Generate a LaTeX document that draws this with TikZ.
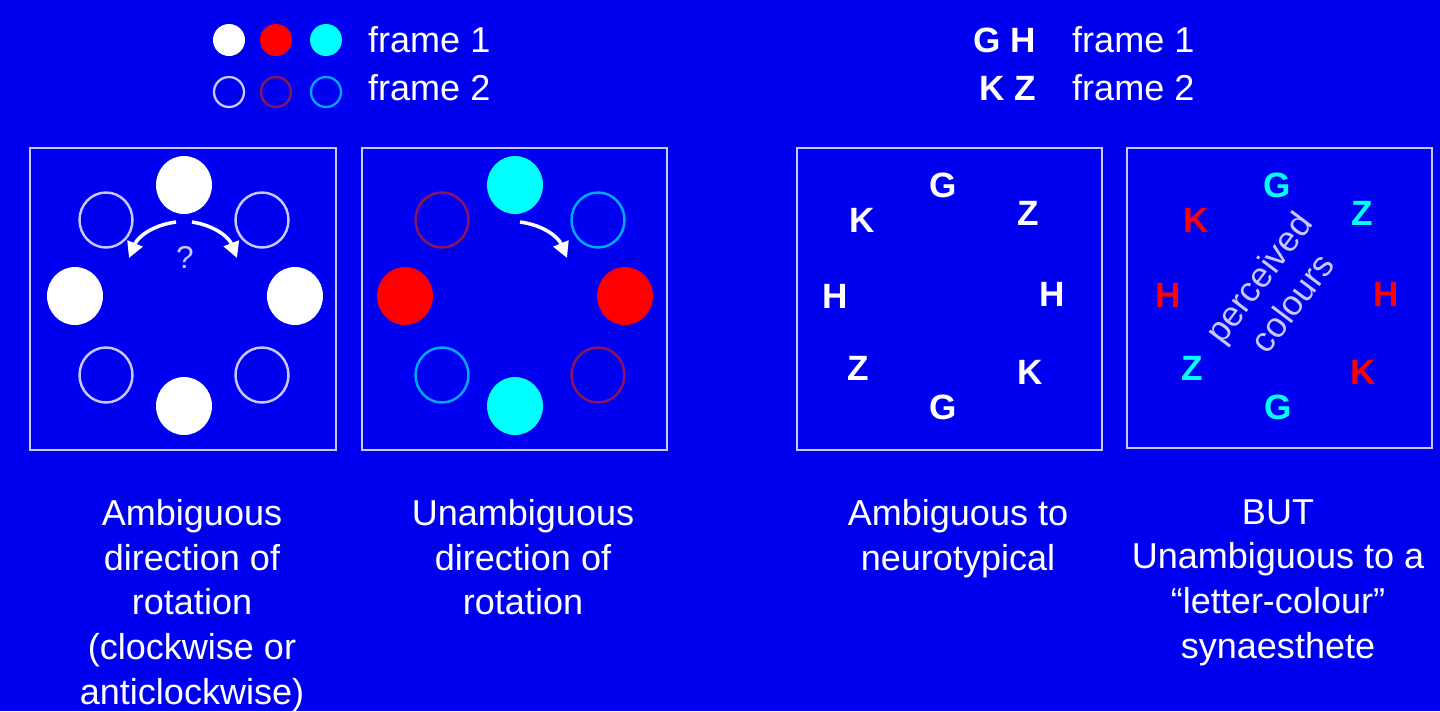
\documentclass[tikz,border=0pt]{standalone}
\usepackage{fontspec}
\setmainfont{Liberation Sans}
\usetikzlibrary{arrows.meta,shapes.geometric}
\definecolor{bg}{RGB}{0,0,240}
\definecolor{lav}{RGB}{200,200,255}
\definecolor{cy}{RGB}{0,255,255}
\definecolor{rd}{RGB}{255,0,0}
\definecolor{dr}{RGB}{140,20,90}
\definecolor{lb}{RGB}{0,170,255}
\begin{document}
\begin{tikzpicture}[x=0.02cm,y=-0.02cm,
  box/.style={draw=lav,line width=1.2pt},
  fc/.style={ellipse,minimum width=1.12cm,minimum height=1.16cm,inner sep=0,fill=#1},
  hc/.style={ellipse,minimum width=1.06cm,minimum height=1.1cm,inner sep=0,draw=#1,line width=1.4pt},
  lfc/.style={circle,minimum size=0.64cm,inner sep=0,fill=#1},
  lhc/.style={circle,minimum size=0.6cm,inner sep=0,draw=#1,line width=1.3pt},
  let/.style={text=#1,font=\bfseries\fontsize{20}{22}\selectfont},
  txt/.style={text=white,font=\fontsize{20.5}{25.5}\selectfont,align=center,anchor=north},
  arr/.style={draw=white,line width=2pt,-{Triangle[width=9pt,length=9pt]}}]
\fill[bg] (0,0) rectangle (1440,711);
\useasboundingbox (0,0) rectangle (1440,711);
% legend left
\node[lfc=white] (l1) at (229,40) {};
\node[lfc=rd] (l2) at (276,40) {};
\node[lfc=cy] (l3) at (326,40) {};
\node[lhc=lav] (l4) at (229,92) {};
\node[lhc=dr] (l5) at (276,92) {};
\node[lhc=lb] (l6) at (326,92) {};
\node[txt,anchor=west] (f1) at (362,40) {frame 1};
\node[txt,anchor=west] (f2) at (362,88) {frame 2};
% legend right
\node[let=white] (gh) at (1005,40) {G H};
\node[let=white] (kz) at (1008,88) {K Z};
\node[txt,anchor=west] (f3) at (1066,40) {frame 1};
\node[txt,anchor=west] (f4) at (1066,88) {frame 2};
% boxes
\draw[box] (30,148) rectangle (336,450);
\draw[box] (362,148) rectangle (667,450);
\draw[box] (797,148) rectangle (1102,450);
\draw[box] (1127,148) rectangle (1432,448);
% box1
\node[fc=white] (a1) at (184,185) {};
\node[fc=white] (a2) at (75,296) {};
\node[fc=white] (a3) at (295,296) {};
\node[fc=white] (a4) at (184,406) {};
\node[hc=lav] (a5) at (106,220) {};
\node[hc=lav] (a6) at (262,220) {};
\node[hc=lav] (a7) at (106,375) {};
\node[hc=lav] (a8) at (262,375) {};
\coordinate (p1) at (176,222); \coordinate (p2) at (129,258);
\coordinate (p3) at (192,222); \coordinate (p4) at (237,258);
\draw[arr] (p1) to[bend right=30] (p2);
\draw[arr] (p3) to[bend left=30] (p4);
\node[text=lav,font=\fontsize{18}{20}\selectfont] (q) at (185,257) {?};
% box2
\node[fc=cy] (b1) at (515,185) {};
\node[fc=rd] (b2) at (405,296) {};
\node[fc=rd] (b3) at (625,296) {};
\node[fc=cy] (b4) at (515,406) {};
\node[hc=dr] (b5) at (442,220) {};
\node[hc=lb] (b6) at (598,220) {};
\node[hc=lb] (b7) at (442,375) {};
\node[hc=dr] (b8) at (598,375) {};
\coordinate (p5) at (520,222); \coordinate (p6) at (567,258);
\draw[arr] (p5) to[bend left=30] (p6);
% box3
\node[let=white] (c1) at (943,185) {G};
\node[let=white] (c2) at (1028,213) {Z};
\node[let=white] (c3) at (862,220) {K};
\node[let=white] (c4) at (835,296) {H};
\node[let=white] (c5) at (1052,294) {H};
\node[let=white] (c6) at (858,368) {Z};
\node[let=white] (c7) at (1030,372) {K};
\node[let=white] (c8) at (943,407) {G};
% box4
\node[let=cy] (d1) at (1277,185) {G};
\node[let=cy] (d2) at (1362,213) {Z};
\node[let=rd] (d3) at (1196,220) {K};
\node[let=rd] (d4) at (1168,295) {H};
\node[let=rd] (d5) at (1386,294) {H};
\node[let=cy] (d6) at (1192,368) {Z};
\node[let=rd] (d7) at (1363,372) {K};
\node[let=cy] (d8) at (1278,407) {G};
\node[text=lav,rotate=53,align=center,inner sep=0,font=\fontsize{20}{24}\selectfont] (pc) at (1275,290) {perceived\\colours};
% captions
\node[txt] (t1) at (192,493) {Ambiguous\\direction of\\rotation\\(clockwise or\\anticlockwise)};
\node[txt] (t2) at (523,493) {Unambiguous\\direction of\\rotation};
\node[txt] (t3) at (958,493) {Ambiguous to\\neurotypical};
\node[txt] (t4) at (1278,493) {BUT\\Unambiguous to a\\“letter-colour”\\synaesthete};
\end{tikzpicture}
\end{document}
